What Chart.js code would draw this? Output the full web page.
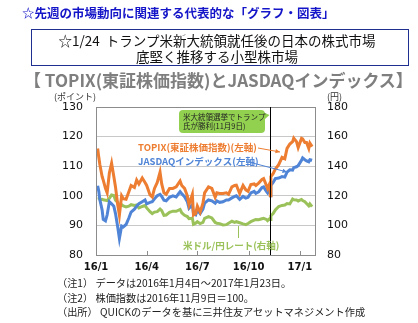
<!DOCTYPE html>
<html><head><meta charset="utf-8">
<script src="https://cdn.jsdelivr.net/npm/chart.js@4"></script>
<style>
html,body{margin:0;padding:0;background:#fff;}
body{width:418px;height:323px;position:relative;overflow:hidden;font-family:"Noto Sans CJK JP","Noto Sans",sans-serif;}
.t{position:absolute;white-space:nowrap;line-height:1;}
#c{position:absolute;left:0;top:0;}
</style></head><body>
<canvas id="c" width="418" height="323"></canvas>
<div class="t" style="left:22px;top:7px;font-size:12.5px;font-weight:bold;color:#1414c8;">☆先週の市場動向に関連する代表的な「グラフ・図表」</div>
<div class="t" style="left:31px;top:29px;width:376px;height:35px;border:1px solid #1f2f8f;"></div>
<div class="t" style="left:28px;top:34px;width:378px;text-align:center;font-size:13.5px;color:#111;">☆1/24&nbsp;&nbsp;トランプ米新大統領就任後の日本の株式市場</div>
<div class="t" style="left:28px;top:50px;width:378px;text-align:center;font-size:13.5px;color:#111;">底堅く推移する小型株市場</div>
<div class="t" style="left:24px;top:71px;font-size:17px;font-weight:bold;color:#7f7f7f;">【 TOPIX(東証株価指数)とJASDAQインデックス】</div>
<div class="t" style="left:54px;top:92px;font-size:9px;color:#333;">(ポイント)</div>
<div class="t" style="left:327px;top:92px;font-size:9px;color:#333;">(円)</div>
<div class="t" style="left:57px;top:278px;font-size:10.2px;color:#222;">（注1） データは2016年1月4日～2017年1月23日。</div>
<div class="t" style="left:57px;top:293px;font-size:10.2px;color:#222;">（注2） 株価指数は2016年11月9日＝100。</div>
<div class="t" style="left:57px;top:307px;font-size:10.2px;color:#222;">（出所） QUICKのデータを基に三井住友アセットマネジメント作成</div>
<script>
// ---- data ----
const dates = ["2016-01-04","2016-01-06","2016-01-08","2016-01-12","2016-01-14","2016-01-18","2016-01-21","2016-01-25","2016-01-29","2016-02-02","2016-02-05","2016-02-09","2016-02-12","2016-02-16","2016-02-19","2016-02-24","2016-02-29","2016-03-04","2016-03-10","2016-03-14","2016-03-18","2016-03-24","2016-03-29","2016-04-01","2016-04-07","2016-04-11","2016-04-15","2016-04-20","2016-04-25","2016-04-28","2016-05-02","2016-05-06","2016-05-12","2016-05-18","2016-05-24","2016-05-31","2016-06-03","2016-06-08","2016-06-13","2016-06-16","2016-06-22","2016-06-24","2016-06-28","2016-07-01","2016-07-06","2016-07-11","2016-07-14","2016-07-21","2016-07-27","2016-08-02","2016-08-05","2016-08-10","2016-08-16","2016-08-22","2016-08-26","2016-09-01","2016-09-06","2016-09-09","2016-09-15","2016-09-21","2016-09-26","2016-09-30","2016-10-05","2016-10-11","2016-10-14","2016-10-19","2016-10-25","2016-10-28","2016-11-02","2016-11-04","2016-11-08","2016-11-09","2016-11-10","2016-11-14","2016-11-18","2016-11-24","2016-11-30","2016-12-05","2016-12-09","2016-12-14","2016-12-19","2016-12-21","2016-12-26","2016-12-29","2017-01-04","2017-01-06","2017-01-10","2017-01-13","2017-01-17","2017-01-19","2017-01-23"];
const topix = [116.0,113.0,110.5,106.5,105.3,102.5,101.0,107.7,111.0,106.5,103.0,97.0,93.5,100.0,99.0,98.8,101.4,103.5,102.8,105.3,104.0,106.0,104.5,103.5,100.3,99.6,102.5,104.5,108.0,104.0,101.0,100.5,102.5,102.5,103.0,105.0,103.5,102.5,100.0,97.0,100.5,93.5,94.0,96.5,94.5,97.5,101.0,103.0,102.5,99.5,101.0,100.8,100.8,101.0,100.5,103.0,103.5,103.6,100.8,103.5,102.0,101.5,103.8,104.0,103.5,104.3,105.5,105.8,103.5,102.5,104.2,100.0,106.5,107.5,109.0,110.5,113.0,112.5,116.0,117.5,118.3,119.5,118.3,116.3,119.4,119.2,118.0,118.0,116.0,117.8,116.6];
const jasdaq = [103.4,101.5,98.6,95.2,92.0,91.5,93.5,98.0,97.3,96.5,94.0,89.5,85.6,89.8,89.5,90.3,92.5,94.5,95.5,96.5,97.3,98.0,98.6,97.3,97.8,98.0,99.0,100.0,100.5,99.8,98.5,98.3,99.5,100.0,99.6,101.4,100.7,99.7,98.0,95.8,97.0,94.0,93.6,95.2,94.0,95.5,97.5,98.6,98.3,97.5,98.3,97.8,98.0,98.6,98.6,99.3,99.8,100.0,98.8,99.8,99.2,99.5,101.0,101.5,100.8,101.3,102.8,103.0,101.5,101.0,102.3,100.0,103.5,104.5,105.8,106.0,106.5,106.3,108.0,108.8,108.7,109.5,109.8,110.2,112.0,112.8,112.2,111.8,111.5,112.2,112.0];
const usdjpy = [118.6,118.5,117.5,117.6,117.3,117.0,116.8,118.3,120.6,120.2,117.0,115.5,113.0,114.0,113.2,112.5,113.0,114.0,113.5,113.8,111.8,112.8,113.4,111.8,109.3,108.0,109.0,109.3,111.0,110.0,106.8,107.0,108.8,109.6,109.5,110.8,108.5,106.8,106.0,104.5,104.8,100.8,101.5,102.5,101.2,102.0,104.8,106.0,105.0,102.0,101.5,101.2,100.3,100.5,101.5,102.8,102.0,102.5,101.8,101.0,100.5,101.3,102.5,103.5,104.0,103.8,104.5,104.8,104.0,103.2,104.6,104.0,106.5,108.0,110.5,112.8,113.5,113.8,114.8,114.5,117.8,117.3,117.2,116.5,117.5,116.8,116.0,114.8,113.2,114.5,112.7];
const tickDates = ["2016-01-01","2016-04-01","2016-07-01","2016-10-01","2017-01-01"];
const tickLabels = ["16/1","16/4","16/7","16/10","17/1"];
const eventDate = "2016-11-09";
const axisEndDate = "2017-01-30";
const leftTicks = [80,90,100,110,120,130];
const rightTicks = [80,100,120,140,160,180];

// ---- helpers ----
const D0 = Date.UTC(2016,0,1);
const dayOf = s => { const [y,m,d]=s.split("-").map(Number); return Math.round((Date.UTC(y,m-1,d)-D0)/86400000); };
const pts = arr => arr.map((v,i)=>({x:dayOf(dates[i]), y:v}));
const tickDays = tickDates.map(dayOf);
const eventDay = dayOf(eventDate);

const ORANGE="#ed7d31", BLUE="#4f84d6", GREEN="#9bc25a";

const annot = {
  id:"annot",
  afterDraw(ch){
    const c=ch.ctx, a=ch.chartArea, xs=ch.scales.x;
    c.save();
    c.strokeStyle="#8c8c8c"; c.lineWidth=1;
    c.strokeRect(Math.round(a.left)+0.5, Math.round(a.top)+0.5, Math.round(a.right-a.left)-1, Math.round(a.bottom-a.top));
    tickDays.forEach(d=>{ const x=Math.round(xs.getPixelForValue(d))+0.5; c.beginPath(); c.moveTo(x,a.bottom); c.lineTo(x,a.bottom-4); c.stroke(); });
    const ex=Math.round(xs.getPixelForValue(eventDay))+0.5;
    c.strokeStyle="#000"; c.beginPath(); c.moveTo(ex,a.top); c.lineTo(ex,a.bottom); c.stroke();
    c.fillStyle="#92d050";
    const bx=179, by=110, bw=86, bh=23, r=4;
    c.beginPath();
    c.moveTo(bx+r,by); c.lineTo(bx+bw-r,by); c.quadraticCurveTo(bx+bw,by,bx+bw,by+r);
    c.lineTo(bx+bw,by+3); c.lineTo(ex-1,by+5); c.lineTo(bx+bw,by+9);
    c.lineTo(bx+bw,by+bh-r); c.quadraticCurveTo(bx+bw,by+bh,bx+bw-r,by+bh);
    c.lineTo(bx+r,by+bh); c.quadraticCurveTo(bx,by+bh,bx,by+bh-r);
    c.lineTo(bx,by+r); c.quadraticCurveTo(bx,by,bx+r,by); c.closePath(); c.fill();
    c.fillStyle="#222"; c.font='7.5px "Noto Sans CJK JP"'; c.textBaseline="middle"; c.textAlign="left";
    c.fillText("米大統領選挙でトランプ", bx+4, by+7);
    c.fillText("氏が勝利(11月9日)", bx+4, by+16);
    c.font='bold 9.5px "Noto Sans CJK JP"';
    c.fillStyle=ORANGE; c.fillText("TOPIX(東証株価指数)(左軸)", 138, 147);
    c.fillStyle=BLUE; c.fillText("JASDAQインデックス(左軸)", 138, 161);
    c.fillStyle=GREEN; c.fillText("米ドル/円レート(右軸)", 183, 245);
    const arrow=(x1,y1,x2,y2,col)=>{
      c.strokeStyle=col; c.fillStyle=col; c.lineWidth=1;
      c.beginPath(); c.moveTo(x1,y1); c.lineTo(x2,y2); c.stroke();
      const ang=Math.atan2(y2-y1,x2-x1), L=5;
      c.beginPath(); c.moveTo(x2,y2);
      c.lineTo(x2-L*Math.cos(ang-0.45), y2-L*Math.sin(ang-0.45));
      c.lineTo(x2-L*Math.cos(ang+0.45), y2-L*Math.sin(ang+0.45)); c.closePath(); c.fill();
    };
    arrow(258,148,280,152,ORANGE);
    arrow(249,162,287,172,BLUE);
    c.strokeStyle=GREEN; c.lineWidth=1;
    c.beginPath(); c.moveTo(238.5,238); c.lineTo(238.5,226); c.stroke();
    c.restore();
  }
};

const tickFontY={family:"DejaVu Sans",size:11};
new Chart(document.getElementById("c"),{
  type:"line",
  data:{datasets:[
    {label:"TOPIX",data:pts(topix),yAxisID:"y",borderColor:ORANGE,borderWidth:3,pointRadius:0,tension:0},
    {label:"JASDAQ",data:pts(jasdaq),yAxisID:"y",borderColor:BLUE,borderWidth:3,pointRadius:0,tension:0},
    {label:"USDJPY",data:pts(usdjpy),yAxisID:"y1",borderColor:GREEN,borderWidth:3,pointRadius:0,tension:0}
  ]},
  options:{
    responsive:false,animation:false,
    layout:{padding:{top:107,left:0,right:0,bottom:45}},
    plugins:{legend:{display:false},tooltip:{enabled:false}},
    scales:{
      x:{type:"linear",min:0,max:dayOf(axisEndDate),
        afterBuildTicks:s=>{s.ticks=tickDays.map(v=>({value:v}));},
        ticks:{autoSkip:false,maxRotation:0,padding:6,color:"#111",font:{family:"DejaVu Sans",size:10,weight:"bold"},
          callback:v=>{const i=tickDays.indexOf(v);return i>=0?tickLabels[i]:"";}},
        grid:{drawOnChartArea:false,drawTicks:false},border:{display:false},
        afterFit:s=>{s.height=23;}},
      y:{position:"left",min:80,max:130,
        afterBuildTicks:s=>{s.ticks=leftTicks.map(v=>({value:v}));},
        ticks:{padding:13,color:"#111",font:tickFontY},
        grid:{color:"#c8c8c8",drawTicks:false},border:{display:false},
        afterFit:s=>{s.width=96;}},
      y1:{position:"right",min:80,max:180,
        afterBuildTicks:s=>{s.ticks=rightTicks.map(v=>({value:v}));},
        ticks:{padding:11,color:"#111",font:tickFontY},
        grid:{display:false,drawTicks:false},border:{display:false},
        afterFit:s=>{s.width=102;}}
    }
  },
  plugins:[annot]
});
</script>
</body></html>
